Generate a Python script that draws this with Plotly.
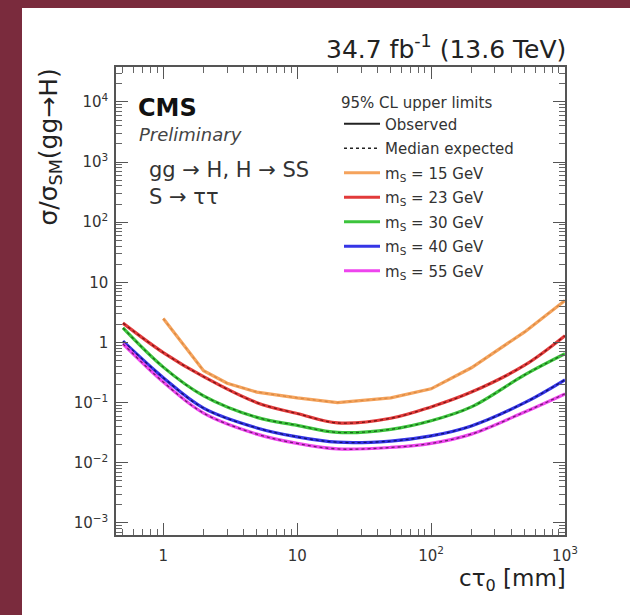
import plotly.graph_objects as go

# ---------------- data ----------------
ctau_15 = [1, 2, 3, 5, 10, 20, 50, 100, 200, 500, 1000]
ctau = [0.5, 1, 2, 5, 10, 20, 50, 100, 200, 500, 1000]

obs_m15 = [2.5, 0.34, 0.21, 0.15, 0.12, 0.10, 0.12, 0.17, 0.38, 1.5, 5.0]
obs_m23 = [2.1, 0.68, 0.27, 0.10, 0.066, 0.046, 0.055, 0.085, 0.15, 0.42, 1.3]
obs_m30 = [1.75, 0.39, 0.13, 0.057, 0.042, 0.032, 0.036, 0.050, 0.085, 0.29, 0.65]
obs_m40 = [1.05, 0.26, 0.081, 0.038, 0.027, 0.022, 0.023, 0.028, 0.041, 0.10, 0.24]
obs_m55 = [0.95, 0.22, 0.067, 0.030, 0.021, 0.017, 0.018, 0.021, 0.030, 0.070, 0.14]

# median expected lies on top of the observed curves
exp_m15 = [2.5, 0.34, 0.21, 0.15, 0.12, 0.10, 0.12, 0.17, 0.38, 1.5, 5.0]
exp_m23 = [2.1, 0.68, 0.27, 0.10, 0.066, 0.046, 0.055, 0.085, 0.15, 0.42, 1.3]
exp_m30 = [1.75, 0.39, 0.13, 0.057, 0.042, 0.032, 0.036, 0.050, 0.085, 0.29, 0.65]
exp_m40 = [1.05, 0.26, 0.081, 0.038, 0.027, 0.022, 0.023, 0.028, 0.041, 0.10, 0.24]
exp_m55 = [0.95, 0.22, 0.067, 0.030, 0.021, 0.017, 0.018, 0.021, 0.030, 0.070, 0.14]

mass_labels = ["m<sub>S</sub> = 15 GeV", "m<sub>S</sub> = 23 GeV", "m<sub>S</sub> = 30 GeV",
               "m<sub>S</sub> = 40 GeV", "m<sub>S</sub> = 55 GeV"]

x_tickvals = [1, 10, 100, 1000]
x_ticktext = ["1", "10", "10<sup>2</sup>", "10<sup>3</sup>"]
y_tickvals = [1e-3, 1e-2, 1e-1, 1, 10, 1e2, 1e3, 1e4]
y_ticktext = ["10<sup>−3</sup>", "10<sup>−2</sup>", "10<sup>−1</sup>", "1", "10",
              "10<sup>2</sup>", "10<sup>3</sup>", "10<sup>4</sup>"]

# ---------------- style ----------------
colors = ["#f5a35c", "#e23a3a", "#3cc43c", "#3535e6", "#ee44ee"]
dash_colors = ["#d98a45", "#7a1515", "#1a6a1a", "#101070", "#702070"]
line_shapes = ["linear", "spline", "spline", "spline", "spline"]
FONT = "DejaVu Sans, Liberation Sans, sans-serif"
TXT = "#333333"

W, H = 630, 615
L, R, T, B = 116, 565, 67, 535


def xp(px):
    return (px - L) / (R - L)


def yp(py):
    return (B - py) / (B - T)


series = [
    (ctau_15, obs_m15, exp_m15),
    (ctau, obs_m23, exp_m23),
    (ctau, obs_m30, exp_m30),
    (ctau, obs_m40, exp_m40),
    (ctau, obs_m55, exp_m55),
]

fig = go.Figure()

# legend-only entries for line styles
fig.add_trace(go.Scatter(x=[None], y=[None], mode="lines", name="Observed",
                         line=dict(color="#222222", width=1.8), legendgroup="a"))
fig.add_trace(go.Scatter(x=[None], y=[None], mode="lines", name="Median expected",
                         line=dict(color="#222222", width=1.5, dash="dot"), legendgroup="b"))

for i, (xs, obs, exp) in enumerate(series):
    fig.add_trace(go.Scatter(x=xs, y=obs, mode="lines", name=mass_labels[i],
                             line=dict(color=colors[i], width=3.2, shape=line_shapes[i],
                                       smoothing=1.0),
                             legendgroup="m%d" % i))
    fig.add_trace(go.Scatter(x=xs, y=exp, mode="lines", showlegend=False,
                             line=dict(color=dash_colors[i], width=1.3, dash="3px,3px",
                                       shape=line_shapes[i], smoothing=1.0),
                             legendgroup="m%d" % i))

axis_common = dict(
    type="log", showline=True, linecolor="#555555", linewidth=1.5, mirror="allticks",
    ticks="inside", ticklen=12, tickwidth=1.2, tickcolor="#555555",
    showgrid=False, zeroline=False,
    tickfont=dict(family=FONT, size=15, color=TXT),
    minor=dict(ticks="inside", ticklen=6, tickwidth=1, tickcolor="#666666",
               dtick="D1", showgrid=False),
)

fig.update_xaxes(**axis_common, range=[-0.353, 3.0],
                 tickmode="array", tickvals=x_tickvals, ticktext=x_ticktext,
                 ticklabelstandoff=6)
fig.update_yaxes(**axis_common, range=[-3.2, 4.58],
                 tickmode="array", tickvals=y_tickvals, ticktext=y_ticktext,
                 ticklabelstandoff=3)

annotations = [
    dict(text="34.7 fb<sup>-1</sup> (13.6 TeV)", x=xp(568), y=yp(48), xanchor="right",
         yanchor="middle", font=dict(size=25, color="#222222")),
    dict(text="cτ<sub>0</sub> [mm]", x=xp(568), y=yp(580), xanchor="right",
         yanchor="middle", font=dict(size=23, color="#222222")),
    dict(text="σ/σ<sub>SM</sub>(gg→H)", x=xp(49), y=yp(67), xanchor="center",
         yanchor="top", textangle=-90, font=dict(size=25, color="#222222")),
    dict(text="<b>CMS</b>", x=xp(136), y=yp(108), xanchor="left", yanchor="middle",
         font=dict(size=24, color="#111111")),
    dict(text="<i>Preliminary</i>", x=xp(137), y=yp(134), xanchor="left", yanchor="middle",
         font=dict(size=18, color="#444444")),
    dict(text="gg → H, H → SS", x=xp(147), y=yp(170), xanchor="left", yanchor="middle",
         font=dict(size=21, color="#333333")),
    dict(text="S → ττ", x=xp(147), y=yp(197), xanchor="left", yanchor="middle",
         font=dict(size=21, color="#333333")),
]
for a in annotations:
    a.update(xref="paper", yref="paper", showarrow=False)
    a["font"]["family"] = FONT

fig.update_layout(
    width=W, height=H,
    margin=dict(l=L, r=W - R, t=T, b=H - B),
    paper_bgcolor="#7a2b3d", plot_bgcolor="white",
    font=dict(family=FONT, color=TXT),
    showlegend=True,
    legend=dict(
        x=xp(339), y=yp(88), xanchor="left", yanchor="top",
        bgcolor="rgba(0,0,0,0)", borderwidth=0,
        font=dict(family=FONT, size=15, color=TXT),
        title=dict(text="95% CL upper limits", font=dict(family=FONT, size=15, color=TXT)),
        traceorder="grouped", tracegroupgap=2, itemwidth=36,
    ),
    annotations=annotations,
    shapes=[dict(type="rect", xref="paper", yref="paper", layer="below",
                 x0=xp(22), x1=xp(640), y0=yp(8), y1=yp(625),
                 fillcolor="white", line=dict(width=0))],
)

fig.write_html("out.html")
